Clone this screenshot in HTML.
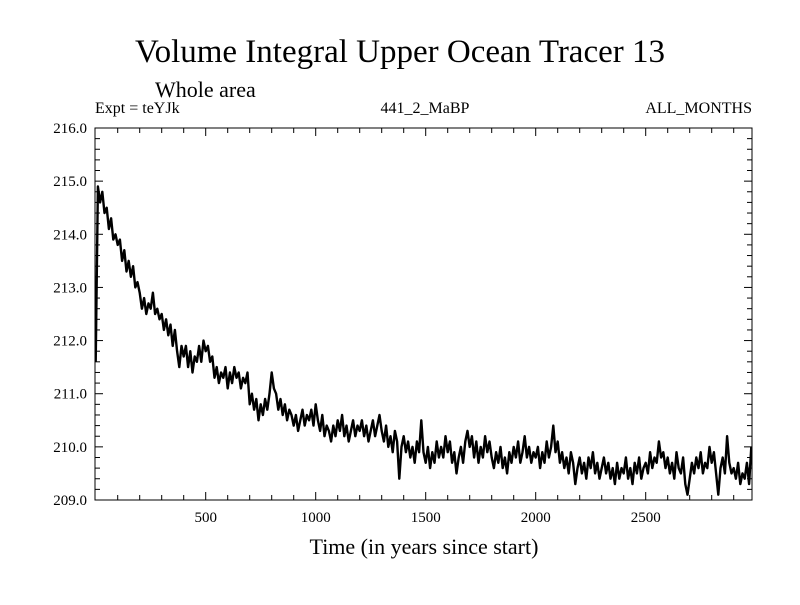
<!DOCTYPE html>
<html><head><meta charset="utf-8"><style>
body{margin:0;background:#fff}
svg text{font-family:"Liberation Serif",serif;fill:#000}
</style></head><body>
<svg id="chart" width="800" height="600" xmlns="http://www.w3.org/2000/svg">
<text x="400" y="62" font-size="33" text-anchor="middle">Volume Integral Upper Ocean Tracer 13</text>
<text x="155" y="97" font-size="22">Whole area</text>
<text x="95" y="113" font-size="16">Expt = teYJk</text>
<text x="425" y="113" font-size="16" text-anchor="middle">441_2_MaBP</text>
<text x="752" y="113" font-size="16" text-anchor="end">ALL_MONTHS</text>
<text x="424" y="554" font-size="22" text-anchor="middle">Time (in years since start)</text>
<g id="axes"></g>
<g id="series"></g>
<rect x="95" y="128" width="657" height="372" fill="none" stroke="#000" stroke-width="1"/>
</svg>
<script>
const yTicks=[209,210,211,212,213,214,215,216];
const yTickLabels=["209.0","210.0","211.0","212.0","213.0","214.0","215.0","216.0"];
const xTicks=[500,1000,1500,2000,2500];
const xTickLabels=["500","1000","1500","2000","2500"];
const yearStep=10;
const values=[
211.6,214.9,214.6,214.8,214.4,214.5,214.1,214.3,213.9,214.0,
213.8,213.9,213.5,213.7,213.3,213.5,213.2,213.4,213.0,213.1,
212.9,212.6,212.8,212.5,212.7,212.6,212.9,212.5,212.6,212.4,
212.5,212.2,212.4,212.1,212.3,211.9,212.2,211.8,211.5,211.9,
211.7,211.9,211.5,211.8,211.4,211.7,211.6,211.9,211.6,212.0,
211.8,211.9,211.6,211.7,211.3,211.5,211.2,211.4,211.3,211.5,
211.1,211.4,211.2,211.5,211.3,211.4,211.1,211.3,211.2,211.4,
210.8,211.0,210.7,210.9,210.5,210.8,210.6,210.9,210.7,211.0,
211.4,211.1,211.0,210.7,210.9,210.6,210.8,210.5,210.7,210.6,
210.4,210.6,210.3,210.5,210.7,210.4,210.6,210.5,210.7,210.4,
210.8,210.5,210.3,210.6,210.2,210.4,210.3,210.1,210.4,210.2,
210.5,210.3,210.6,210.2,210.4,210.1,210.3,210.5,210.2,210.4,
210.3,210.5,210.2,210.4,210.1,210.3,210.5,210.2,210.4,210.6,
210.3,210.1,210.4,210.0,210.2,209.9,210.3,210.1,209.4,210.0,
210.2,209.9,210.1,209.8,210.0,209.7,210.1,209.9,210.5,209.9,
209.7,210.0,209.6,209.9,209.7,210.1,209.8,210.0,209.8,210.2,
209.9,210.1,209.7,209.9,209.5,209.8,210.0,209.7,210.1,210.3,
210.0,210.2,209.8,210.1,209.7,210.0,209.8,210.2,209.9,210.1,
209.8,209.6,209.9,209.7,210.0,209.6,209.8,209.5,209.9,209.7,
210.0,209.8,210.1,209.7,209.9,210.2,209.8,210.0,209.7,209.9,
209.8,210.0,209.6,209.9,209.7,210.1,209.8,210.0,210.4,209.9,
210.1,209.7,209.9,209.6,209.8,209.5,209.9,209.7,209.3,209.6,
209.8,209.5,209.7,209.4,209.8,209.6,209.9,209.5,209.7,209.4,
209.6,209.8,209.5,209.7,209.4,209.6,209.3,209.7,209.4,209.6,
209.5,209.8,209.4,209.6,209.3,209.7,209.5,209.8,209.4,209.6,
209.7,209.5,209.9,209.6,209.8,209.7,210.1,209.8,209.9,209.6,
209.8,209.5,209.7,209.4,209.9,209.6,209.5,209.8,209.3,209.1,
209.4,209.7,209.5,209.8,209.6,209.9,209.5,209.7,209.6,210.0,
209.7,209.9,209.5,209.1,209.6,209.8,209.5,210.2,209.7,209.5,
209.6,209.4,209.7,209.3,209.5,209.4,209.7,209.3,210.0
];
const NS="http://www.w3.org/2000/svg";
const L=95,R=752,T=128,B=500;
const xS=v=>95.7+v*0.22;
const yS=v=>B-(v-209)*(B-T)/7;
const axes=document.getElementById('axes');
function line(x1,y1,x2,y2,name){const l=document.createElementNS(NS,'line');
l.setAttribute('x1',x1);l.setAttribute('y1',y1);l.setAttribute('x2',x2);l.setAttribute('y2',y2);
l.setAttribute('stroke','#000');l.setAttribute('stroke-width','1');


axes.appendChild(l);}
function text(x,y,s,anchor,name){const t=document.createElementNS(NS,'text');
t.setAttribute('x',x);t.setAttribute('y',y);t.setAttribute('font-size','15');t.setAttribute('text-anchor',anchor);t.textContent=s;


axes.appendChild(t);}
for(let v=209;v<=216.001;v+=0.2){const y=yS(v);const major=Math.abs(v-Math.round(v))<0.01;const len=major?8:5;
line(L,y,L+len,y,'y-tick');line(R,y,R-len,y,'y-tick');}
yTicks.forEach((v,i)=>text(87,yS(v)+5,yTickLabels[i],'end','y-tick-label'));
for(let v=100;v<3000;v+=100){const x=xS(v);const major=v%500===0;const len=major?8:5;
line(x,B,x,B-len,'x-tick');line(x,T,x,T+len,'x-tick');}
xTicks.forEach((v,i)=>text(xS(v),522,xTickLabels[i],'middle','x-tick-label'));
let d='';values.forEach((v,i)=>{d+=(i?'L':'M')+xS(i*yearStep).toFixed(1)+' '+yS(v).toFixed(1);});
const p=document.createElementNS(NS,'path');p.setAttribute('d',d);p.setAttribute('fill','none');
p.setAttribute('stroke','#000');p.setAttribute('stroke-width','2.4');p.setAttribute('stroke-linejoin','round');


document.getElementById('series').appendChild(p);
</script>
</body></html>
